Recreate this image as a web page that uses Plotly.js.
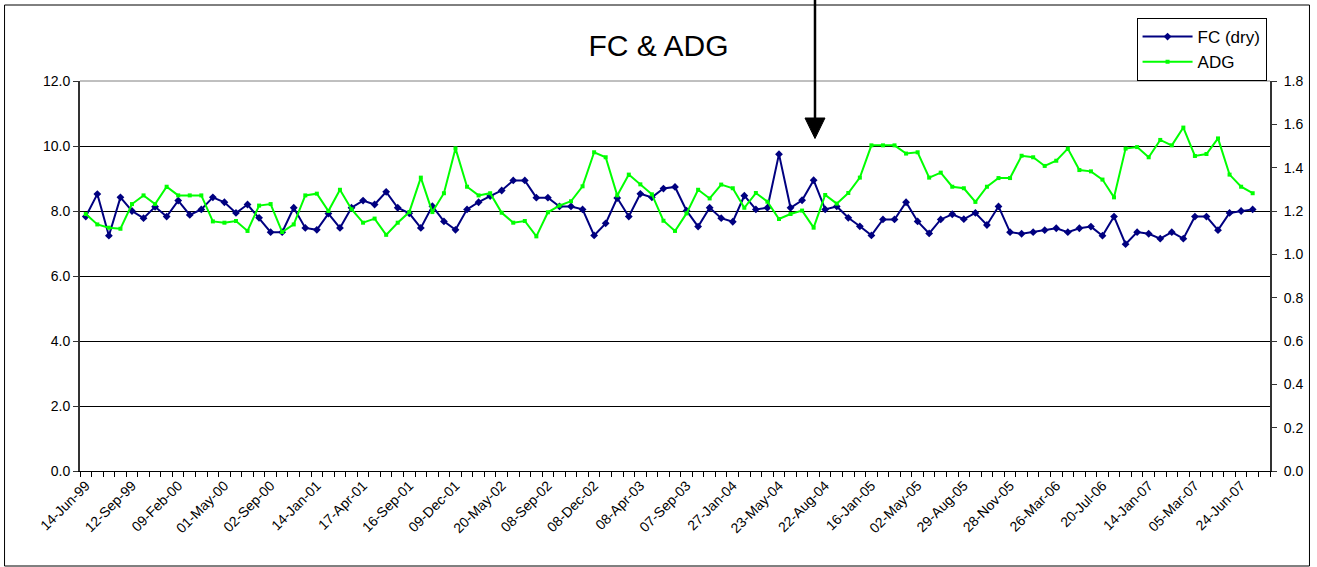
<!DOCTYPE html>
<html>
<head>
<meta charset="utf-8">
<script src="https://cdn.plot.ly/plotly-3.0.1.min.js"></script>
<style>
  html, body { margin: 0; padding: 0; background: #fff; }
  #chart { width: 1317px; height: 567px; }
</style>
</head>
<body>
<div id="chart"></div>
<script>
// Tick labels (every 4th sample date shown on the category axis)
const tickLabels = ["14-Jun-99","12-Sep-99","09-Feb-00","01-May-00","02-Sep-00","14-Jan-01","17-Apr-01","16-Sep-01","09-Dec-01","20-May-02","08-Sep-02","08-Dec-02","08-Apr-03","07-Sep-03","27-Jan-04","23-May-04","22-Aug-04","16-Jan-05","02-May-05","29-Aug-05","28-Nov-05","26-Mar-06","20-Jul-06","14-Jan-07","05-Mar-07","24-Jun-07"];

// FC (dry) – left axis
const fcDry = [7.83,8.52,7.24,8.42,8.00,7.78,8.13,7.83,8.32,7.88,
  8.05,8.42,8.27,7.94,8.20,7.79,7.35,7.35,8.10,7.48,
  7.42,7.92,7.48,8.10,8.32,8.20,8.59,8.10,7.93,7.48,
  8.15,7.68,7.42,8.05,8.27,8.46,8.63,8.94,8.94,8.41,
  8.41,8.14,8.14,8.05,7.25,7.62,8.40,7.83,8.53,8.42,
  8.69,8.74,8.01,7.52,8.10,7.78,7.67,8.47,8.05,8.10,
  9.75,8.10,8.33,8.95,8.05,8.14,7.79,7.53,7.25,7.74,
  7.74,8.27,7.68,7.31,7.74,7.90,7.75,7.94,7.57,8.14,
  7.35,7.30,7.35,7.41,7.47,7.35,7.47,7.52,7.24,7.83,
  6.98,7.35,7.30,7.15,7.35,7.15,7.83,7.83,7.41,7.94,
  8.00,8.05];

// ADG – right axis
const adg = [1.186,1.138,1.123,1.118,1.232,1.272,1.232,1.312,1.272,1.272,
  1.272,1.152,1.146,1.154,1.108,1.225,1.232,1.103,1.138,1.272,
  1.280,1.200,1.298,1.208,1.146,1.165,1.090,1.146,1.195,1.354,
  1.195,1.282,1.489,1.312,1.272,1.282,1.192,1.146,1.154,1.083,
  1.194,1.225,1.245,1.314,1.471,1.448,1.272,1.368,1.323,1.277,
  1.155,1.108,1.189,1.298,1.258,1.322,1.305,1.215,1.283,1.243,
  1.163,1.186,1.202,1.123,1.274,1.234,1.283,1.354,1.503,1.503,
  1.503,1.465,1.471,1.354,1.377,1.312,1.305,1.242,1.312,1.352,
  1.352,1.455,1.448,1.408,1.432,1.488,1.389,1.383,1.345,1.263,
  1.488,1.495,1.448,1.528,1.503,1.585,1.454,1.463,1.535,1.368,
  1.312,1.282];

const labelStep = 4;
const nCats = fcDry.length + 1; // one trailing empty category
const xIdx = fcDry.map((_, i) => i);
const tickVals = tickLabels.map((_, i) => i * labelStep);

const FONT = "Liberation Sans, Arial, sans-serif";

// pixel -> paper helpers (plot area: left 80, width 1190.5, bottom 471, height 390)
const PL = 80, PW = 1190.5, PB = 471, PH = 390;
const px = v => (v - PL) / PW;
const py = v => (PB - v) / PH;

const traces = [
  {
    x: xIdx, y: fcDry, name: "FC (dry)", type: "scatter", mode: "lines+markers",
    line: {color: "#000080", width: 2},
    marker: {color: "#000080", symbol: "diamond", size: 6},
    yaxis: "y"
  },
  {
    x: xIdx, y: adg, name: "ADG", type: "scatter", mode: "lines+markers",
    line: {color: "#00FF00", width: 2},
    marker: {color: "#00FF00", symbol: "square", size: 4},
    yaxis: "y2"
  }
];

const layout = {
  width: 1317, height: 567,
  margin: {l: PL, r: 1317 - PL - PW, t: PB - PH, b: 567 - PB, autoexpand: false},
  paper_bgcolor: "#fff", plot_bgcolor: "#fff",
  font: {family: FONT, size: 14, color: "#000"},
  title: {text: "FC & ADG", font: {family: FONT, size: 30, color: "#000"},
          x: 0.5, xanchor: "center", y: 1 - 45 / 567, yanchor: "middle", yref: "container"},
  showlegend: true,
  legend: {x: px(1137), y: py(18), xanchor: "left", yanchor: "top",
           bgcolor: "#fff", bordercolor: "#000", borderwidth: 1,
           font: {family: FONT, size: 17, color: "#000"},
           itemwidth: 50, tracegroupgap: 0, entrywidth: 82, entrywidthmode: "pixels"},
  xaxis: {
    type: "linear", range: [-0.5, nCats - 0.5],
    tickmode: "array", tickvals: tickVals, ticktext: tickLabels,
    tickangle: -45, ticks: "", showgrid: false, zeroline: false,
    showline: true, linecolor: "#000", linewidth: 1,
    tickfont: {family: FONT, size: 14, color: "#000"},
    minor: {ticks: "outside", ticklen: 5, tickcolor: "#000", tick0: -0.5, dtick: 1, showgrid: false}
  },
  yaxis: {
    range: [0, 12], dtick: 2, tick0: 0, tickformat: ".1f",
    showgrid: true, gridcolor: "#000", gridwidth: 1, zeroline: false,
    showline: true, linecolor: "#333", linewidth: 2,
    ticks: "outside", ticklen: 5, tickcolor: "#333",
    tickfont: {family: FONT, size: 14, color: "#000"}
  },
  yaxis2: {
    overlaying: "y", side: "right", range: [0, 1.8], dtick: 0.2, tick0: 0, tickformat: ".1f",
    showgrid: false, zeroline: false,
    showline: true, linecolor: "#333", linewidth: 2,
    ticks: "outside", ticklen: 5, tickcolor: "#333", ticklabelstandoff: 4,
    tickfont: {family: FONT, size: 14, color: "#000"}
  },
  yaxis3: {
    overlaying: "y", side: "right", range: [0, 1.8], dtick: 0.2, tick0: 0,
    showgrid: false, zeroline: false, showline: false, showticklabels: false,
    ticks: "inside", ticklen: 5, tickcolor: "#333"
  },
  shapes: [
    // plot-area top border
    {type: "line", xref: "paper", yref: "paper", x0: 0, x1: 1, y0: 1, y1: 1,
     line: {color: "#808080", width: 1}},
    // outer chart border
    {type: "rect", xref: "paper", yref: "paper", x0: px(4.5), x1: px(1310), y0: py(5), y1: py(566),
     line: {color: "#000", width: 1}, fillcolor: "rgba(0,0,0,0)"},
    // arrow shaft
    {type: "line", xref: "paper", yref: "paper", x0: px(815.3), x1: px(815.3), y0: py(-2), y1: py(122),
     line: {color: "#000", width: 2.5}},
    // arrow head
    {type: "path", xref: "paper", yref: "paper",
     path: `M ${px(805.3)} ${py(118)} L ${px(825.3)} ${py(118)} L ${px(815.3)} ${py(138.5)} Z`,
     fillcolor: "#000", line: {color: "#000", width: 1}}
  ]
};

Plotly.newPlot("chart", traces, layout, {displayModeBar: false, staticPlot: true});
</script>
</body>
</html>
